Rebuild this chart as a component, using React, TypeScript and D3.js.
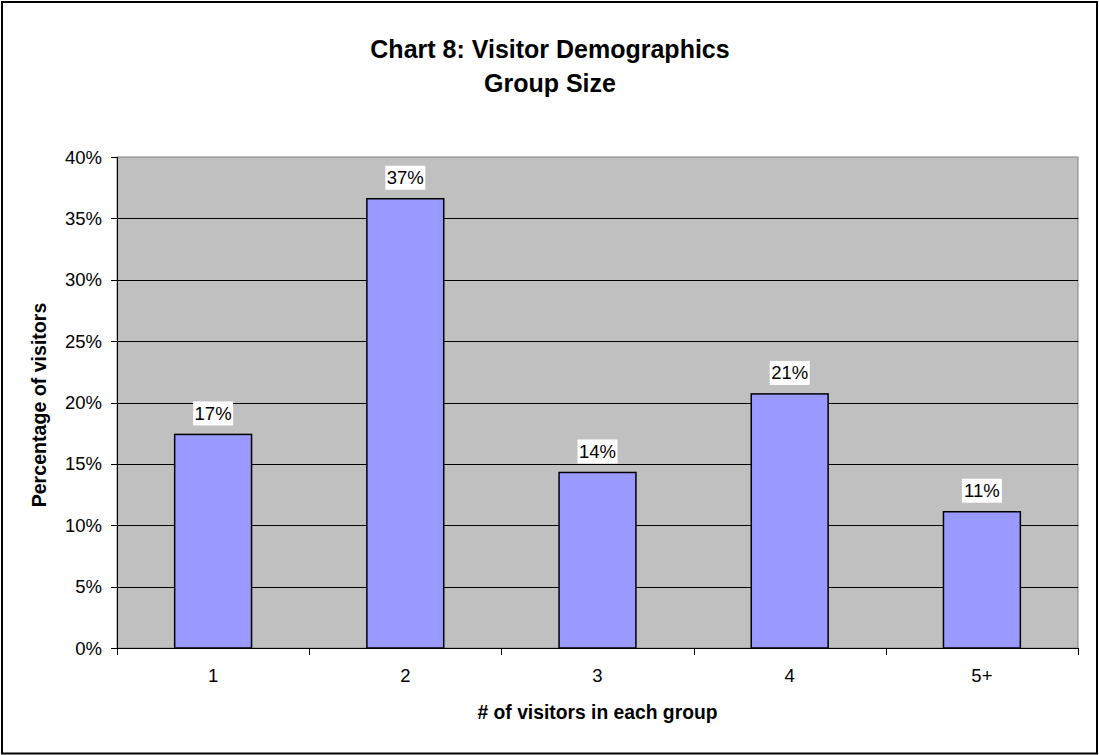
import React from "react";
import * as d3 from "d3";

// Group-size categories and the share of visitors in each
const categories: string[] = ["1", "2", "3", "4", "5+"];
const shares: number[] = [0.174, 0.366, 0.143, 0.207, 0.111];
const yTicks: number[] = [0, 0.05, 0.1, 0.15, 0.2, 0.25, 0.3, 0.35, 0.4];

const titleLines: string[] = ["Chart 8: Visitor Demographics", "Group Size"];
const xTitle = "# of visitors in each group";
const yTitle = "Percentage of visitors";

const W = 1099;
const H = 755;
const plot = { left: 117, right: 1078, top: 157, bottom: 648 };
const FONT = "Arial, 'Liberation Sans', Helvetica, sans-serif";

export default function App() {
  const x = d3
    .scaleBand<string>()
    .domain(categories)
    .range([plot.left, plot.right])
    .paddingInner(0.6)
    .paddingOuter(0.3);
  const y = d3.scaleLinear().domain([0, 0.4]).range([plot.bottom, plot.top]);
  const pct = d3.format(".0%");
  const step = x.step();
  const boundaries = d3.range(categories.length + 1).map((i) => plot.left + i * step);

  return (
    <svg
      width={W}
      height={H}
      style={{ position: "absolute", left: 0, top: 0, background: "#fff" }}
      fontFamily={FONT}
    >
      <rect x={0} y={0} width={W} height={H} fill="#fff" />
      {/* outer frame */}
      <rect x={2} y={2} width={W - 4} height={H - 3.5} fill="none" stroke="#000" strokeWidth={2} />

      {/* title */}
      {titleLines.map((t, i) => (
        <text key={t} x={550} y={58 + i * 33.5} textAnchor="middle" fontSize={25} fontWeight="bold" fill="#000">
          {t}
        </text>
      ))}

      {/* plot background */}
      <rect
        x={plot.left}
        y={plot.top}
        width={plot.right - plot.left}
        height={plot.bottom - plot.top}
        fill="#C0C0C0"
        stroke="#808080"
        strokeWidth={1}
      />

      {/* gridlines */}
      {yTicks
        .filter((t) => t > 0 && t < 0.4)
        .map((t) => (
          <line
            key={t}
            x1={plot.left}
            x2={plot.right}
            y1={Math.round(y(t)) + 0.5}
            y2={Math.round(y(t)) + 0.5}
            stroke="#000"
            strokeWidth={1}
          />
        ))}

      {/* bars */}
      {categories.map((c, i) => (
        <rect
          key={c}
          x={x(c)!}
          y={y(shares[i])}
          width={x.bandwidth()}
          height={y(0) - y(shares[i])}
          fill="#9999FF"
          stroke="#000"
          strokeWidth={1.5}
        />
      ))}

      {/* data labels */}
      {categories.map((c, i) => {
        const cx = x(c)! + x.bandwidth() / 2;
        const top = y(shares[i]);
        return (
          <g key={c}>
            <rect x={cx - 20} y={top - 33} width={40} height={24} fill="#fff" />
            <text x={cx} y={top - 14.5} textAnchor="middle" fontSize={18.5} fill="#000">
              {pct(shares[i])}
            </text>
          </g>
        );
      })}

      {/* y axis */}
      <line x1={plot.left + 0.5} x2={plot.left + 0.5} y1={plot.top} y2={plot.bottom} stroke="#000" />
      {yTicks.map((t) => (
        <g key={t}>
          <line
            x1={plot.left - 6}
            x2={plot.left}
            y1={Math.round(y(t)) + 0.5}
            y2={Math.round(y(t)) + 0.5}
            stroke="#000"
          />
          <text x={102} y={y(t) + 6.5} textAnchor="end" fontSize={18.5} fill="#000">
            {pct(t)}
          </text>
        </g>
      ))}

      {/* x axis */}
      <line x1={plot.left} x2={plot.right} y1={plot.bottom + 0.5} y2={plot.bottom + 0.5} stroke="#000" />
      {boundaries.map((bx, i) => (
        <line
          key={i}
          x1={Math.round(bx) + 0.5}
          x2={Math.round(bx) + 0.5}
          y1={plot.bottom}
          y2={plot.bottom + 7}
          stroke="#000"
        />
      ))}
      {categories.map((c) => (
        <text key={c} x={x(c)! + x.bandwidth() / 2} y={682} textAnchor="middle" fontSize={18.5} fill="#000">
          {c}
        </text>
      ))}

      {/* axis titles */}
      <text
        x={(plot.left + plot.right) / 2}
        y={719}
        textAnchor="middle"
        fontSize={19.3}
        fontWeight="bold"
        fill="#000"
      >
        {xTitle}
      </text>
      <text
        transform={`translate(46, 405) rotate(-90)`}
        textAnchor="middle"
        fontSize={19.6}
        fontWeight="bold"
        fill="#000"
      >
        {yTitle}
      </text>
    </svg>
  );
}
